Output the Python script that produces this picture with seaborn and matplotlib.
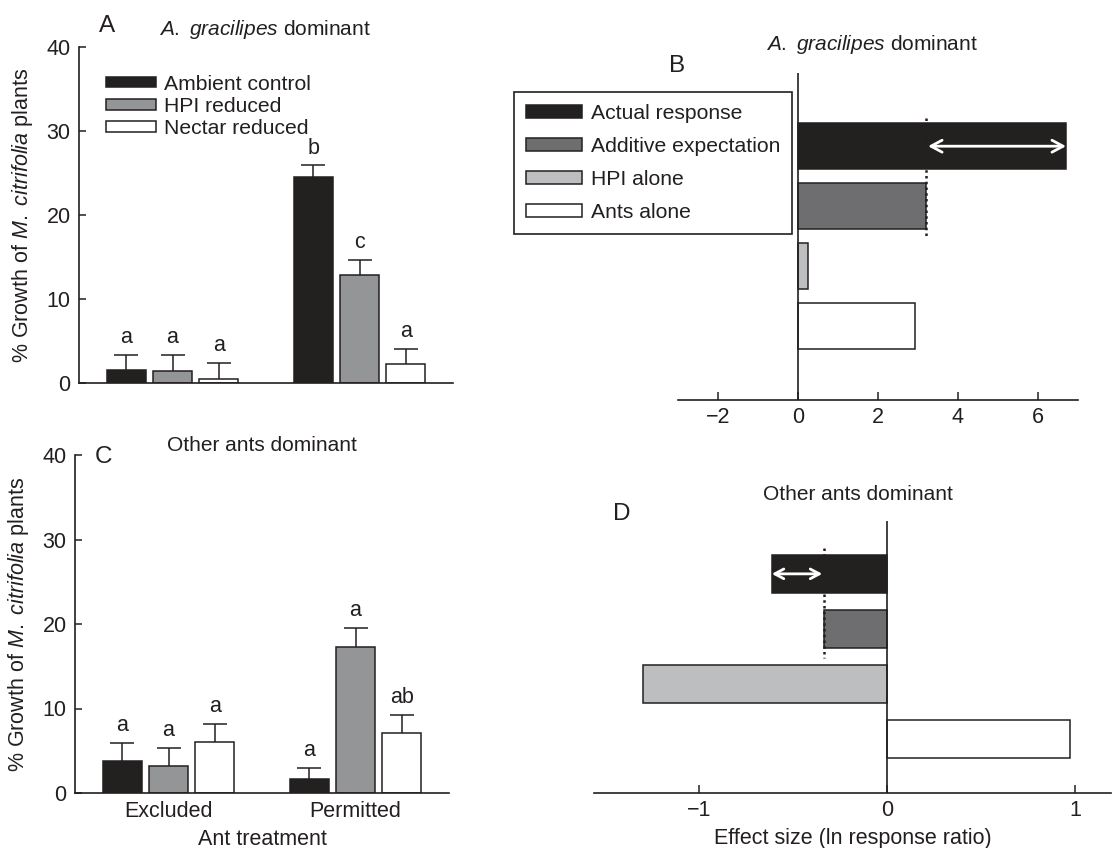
import numpy as np
import pandas as pd
import seaborn as sns
import matplotlib.pyplot as plt

# ---- data ----
treatments = ["Excluded", "Permitted"]
conditions = ["Ambient control", "HPI reduced", "Nectar reduced"]

# panel A: A. gracilipes dominant (% growth, upper SE)
a_ambient = [1.55, 24.5]
a_hpi = [1.4, 12.8]
a_nectar = [0.5, 2.3]
a_ambient_se = [1.75, 1.4]
a_hpi_se = [1.9, 1.9]
a_nectar_se = [1.9, 1.8]
a_letters = ["a", "b", "a", "c", "a", "a"]

# panel C: other ants dominant
c_ambient = [3.8, 1.6]
c_hpi = [3.2, 17.3]
c_nectar = [6.0, 7.1]
c_ambient_se = [2.1, 1.4]
c_hpi_se = [2.1, 2.2]
c_nectar_se = [2.2, 2.1]
c_letters = ["a", "a", "a", "a", "a", "ab"]

# panels B and D: effect sizes (ln response ratio)
effect_labels = ["Actual response", "Additive expectation", "HPI alone", "Ants alone"]
b_effect = [6.7, 3.2, 0.25, 2.92]
d_effect = [-0.614, -0.335, -1.30, 0.97]

dark = "#231f20"
growth_colors = [dark, "#939598", "white"]
effect_colors = [dark, "#6d6e71", "#bcbec0", "white"]

sns.set_style("ticks")
plt.rcParams["font.family"] = ["Liberation Sans", "DejaVu Sans"]
plt.rcParams["mathtext.fontset"] = "custom"
plt.rcParams["mathtext.rm"] = "Liberation Sans"
plt.rcParams["mathtext.it"] = "Liberation Sans:italic"
plt.rcParams["axes.edgecolor"] = dark
plt.rcParams["axes.linewidth"] = 1.2
plt.rcParams["text.color"] = dark
plt.rcParams["axes.labelcolor"] = dark
plt.rcParams["xtick.color"] = dark
plt.rcParams["ytick.color"] = dark

W, H = 1113, 848
fig = plt.figure(figsize=(W / 100, H / 100), dpi=100)


def px_axes(x0, y0, x1, y1):
    return fig.add_axes([x0 / W, 1 - y1 / H, (x1 - x0) / W, (y1 - y0) / H])


def growth_panel(ax, vals, ses, letters, legend):
    df = pd.DataFrame({
        "treatment": treatments * 3,
        "condition": np.repeat(conditions, 2),
        "growth": vals[0] + vals[1] + vals[2],
        "se": ses[0] + ses[1] + ses[2],
        "letter": letters,
    })
    sns.barplot(data=df, x="treatment", y="growth", hue="condition",
                hue_order=conditions, palette=growth_colors, width=0.74,
                gap=0.14, edgecolor=dark, linewidth=1.1, errorbar=None,
                legend=legend, ax=ax)
    for cond, cont in zip(conditions, ax.containers):
        sub = df[df.condition == cond]
        xs = [p.get_x() + p.get_width() / 2 for p in cont]
        # symmetric bars drawn behind the bars, so only the upper half shows
        ax.errorbar(xs, sub.growth, yerr=sub.se, fmt="none", ecolor=dark,
                    elinewidth=1.1, capsize=8.5, capthick=1.1, zorder=0.5)
        for x, y, s, l in zip(xs, sub.growth, sub.se, sub.letter):
            ax.annotate(l, (x, y + s), xytext=(0, 8.5), textcoords="offset points",
                        ha="center", va="baseline", fontsize=15.5)
    ax.set_ylim(0, 40)
    ax.set_xlim(-0.5, 1.5)
    ax.set_yticks([0, 10, 20, 30, 40])
    ax.tick_params(axis="y", direction="in", length=5, width=1.1, labelsize=15.5, pad=6)
    ax.tick_params(axis="x", direction="in", length=5.5, width=1.1, labelsize=15.5, pad=5.5)
    ax.set_ylabel(r"% Growth of $\mathit{M.\ citrifolia}$ plants", fontsize=15.5, labelpad=8)
    sns.despine(ax=ax)


def effect_panel(ax, vals, height, ylim, xlim, xticks, legend, head):
    df = pd.DataFrame({"label": effect_labels, "effect": vals})
    sns.barplot(data=df, x="effect", y="label", hue="label", hue_order=effect_labels,
                palette=effect_colors, orient="h", width=height, dodge=False,
                edgecolor=dark, linewidth=1.1, legend=legend, ax=ax)
    ax.axvline(0, color=dark, lw=1.2)
    actual, additive = vals[0], vals[1]
    ax.vlines(additive, -0.47, 1.52, colors=dark, linestyles=(0, (1, 1.3)), lw=1.8)
    ax.annotate("", xy=(actual, 0), xytext=(additive, 0),
                arrowprops=dict(arrowstyle="<->,head_length=%s,head_width=%s" % head,
                                color="white", lw=2, shrinkA=1.5, shrinkB=0))
    ax.set_ylim(*ylim)
    ax.set_xlim(*xlim)
    ax.set_xticks(xticks)
    ax.set_yticks([])
    ax.set_ylabel("")
    ax.tick_params(axis="x", direction="in", length=5.5, width=1.1, labelsize=15.5, pad=5)
    sns.despine(ax=ax, left=True)


# A
axA = px_axes(79, 47, 453, 383)
growth_panel(axA, [a_ambient, a_hpi, a_nectar], [a_ambient_se, a_hpi_se, a_nectar_se],
             a_letters, True)
axA.tick_params(axis="x", labelbottom=False)
axA.set_xlabel("")
sns.move_legend(axA, "upper left", bbox_to_anchor=(0.072, 0.918), frameon=False,
                title=None, fontsize=15.2, handlelength=2.35, handleheight=0.42,
                handletextpad=0.4, labelspacing=0.15, borderpad=0, borderaxespad=0)

# C
axC = px_axes(75, 455, 449, 793)
growth_panel(axC, [c_ambient, c_hpi, c_nectar], [c_ambient_se, c_hpi_se, c_nectar_se],
             c_letters, False)
axC.set_xlabel("Ant treatment", fontsize=15.5, labelpad=5)

# B
axB = px_axes(678, 73, 1078, 400)
effect_panel(axB, b_effect, 0.77, (4.23, -1.22), (-3, 7), [-2, 0, 2, 4, 6], True,
             (0.8, 0.43))
axB.set_xlabel("")
sns.move_legend(axB, "upper left", bbox_to_anchor=(-0.41, 0.942), frameon=True,
                title=None, fontsize=15.2, handlelength=2.65, handleheight=0.57,
                handletextpad=0.4, labelspacing=0.66, borderpad=0.58,
                borderaxespad=0, fancybox=False, edgecolor=dark, framealpha=1)
axB.get_legend().get_frame().set_linewidth(1.2)

# D
axD = px_axes(594, 521, 1111, 793)
effect_panel(axD, d_effect, 0.69, (3.98, -0.96), (-1.56, 1.19), [-1, 0, 1], False,
             (0.65, 0.35))
axD.set_xlabel("Effect size (ln response ratio)", fontsize=15.5, labelpad=5)

# titles and panel letters
gr = r"$\mathit{A.\ gracilipes}$ dominant"
fig.text(265 / W, 1 - 35 / H, gr, ha="center", va="baseline", fontsize=15)
fig.text(872 / W, 1 - 50 / H, gr, ha="center", va="baseline", fontsize=15)
fig.text(262 / W, 1 - 451 / H, "Other ants dominant", ha="center", va="baseline", fontsize=15)
fig.text(858 / W, 1 - 500 / H, "Other ants dominant", ha="center", va="baseline", fontsize=15)
for letter, x, y in [("A", 107, 32), ("B", 677, 72), ("C", 104, 463), ("D", 622, 520)]:
    fig.text(x / W, 1 - y / H, letter, ha="center", va="baseline", fontsize=17.5)

fig.savefig("out.png", dpi=100)
